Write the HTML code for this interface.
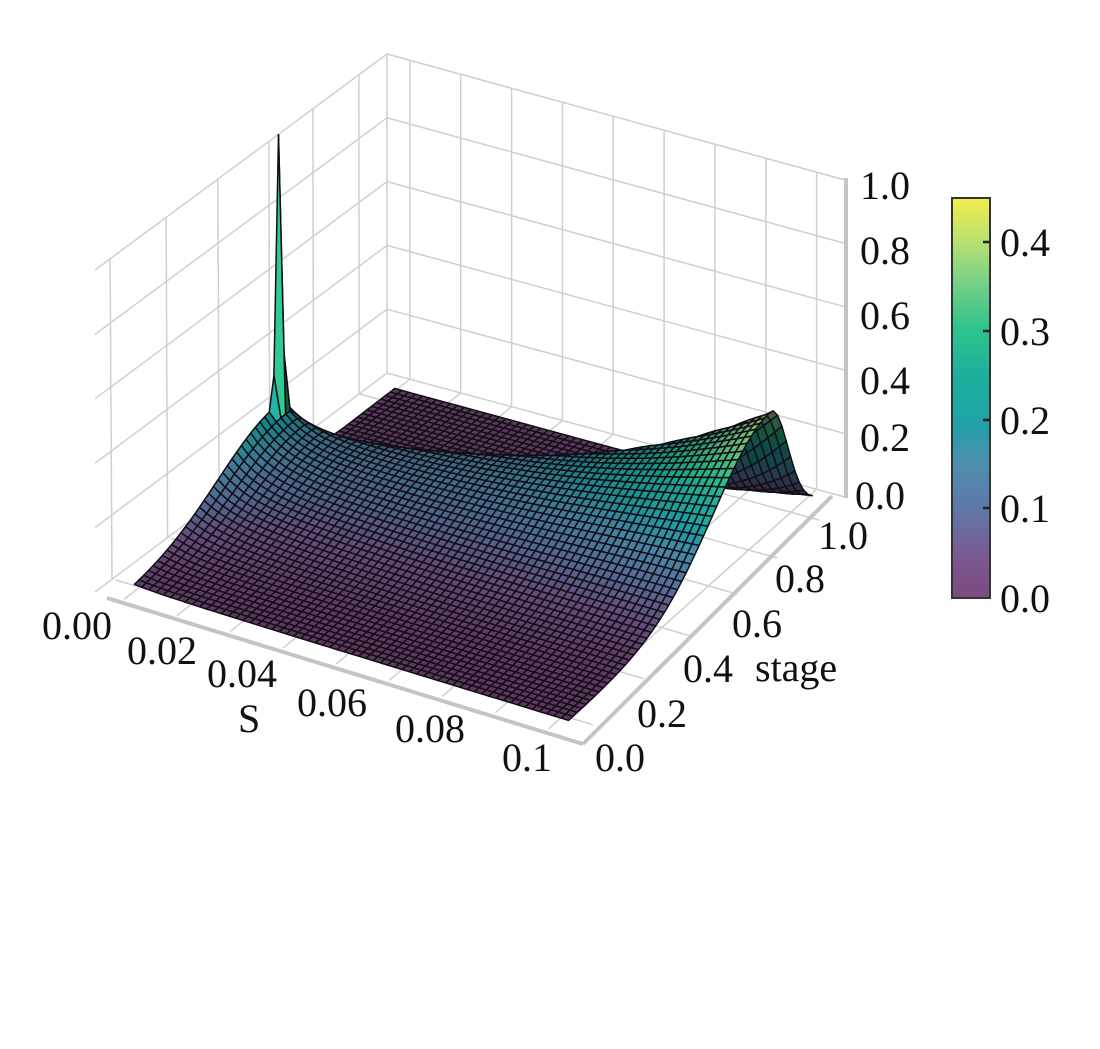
<!DOCTYPE html>
<html><head><meta charset="utf-8"><style>
html,body{margin:0;padding:0;background:#fff;}
svg{display:block;}
text{font-family:"Liberation Serif",serif;font-size:40px;fill:#111;}
</style></head><body>
<svg id="s" width="1100" height="1049" viewBox="0 0 1100 1049" xmlns="http://www.w3.org/2000/svg">
<defs>
<linearGradient id="cb" x1="0" y1="1" x2="0" y2="0">
<stop offset="0" stop-color="#7d4a7e"/>
<stop offset="0.11" stop-color="#7a5a92"/>
<stop offset="0.22" stop-color="#5f78a8"/>
<stop offset="0.33" stop-color="#4f8cae"/>
<stop offset="0.44" stop-color="#1ea3a8"/>
<stop offset="0.56" stop-color="#1db09c"/>
<stop offset="0.67" stop-color="#2ec28c"/>
<stop offset="0.78" stop-color="#72cf88"/>
<stop offset="0.89" stop-color="#b8e070"/>
<stop offset="1" stop-color="#f2ee4c"/>
</linearGradient>
</defs>
<g id="grid" stroke="#cfcfcf" stroke-width="1.5" fill="none"></g>
<g id="surf"></g>
<g stroke="#c4c4c4" stroke-width="4" fill="none">
<line x1="107" y1="598" x2="583" y2="744"/>
<line x1="583" y1="744" x2="832" y2="496"/>
<line x1="846" y1="178" x2="846" y2="498"/>
</g>
<text x="860" y="199">1.0</text>
<text x="860" y="264">0.8</text>
<text x="860" y="329">0.6</text>
<text x="860" y="394">0.4</text>
<text x="860" y="451">0.2</text>
<text x="855" y="509">0.0</text>
<text x="42" y="639">0.00</text>
<text x="127" y="664">0.02</text>
<text x="207" y="687">0.04</text>
<text x="238" y="732">S</text>
<text x="297" y="716">0.06</text>
<text x="395" y="742">0.08</text>
<text x="502" y="771">0.1</text>
<text x="595" y="771">0.0</text>
<text x="637" y="727">0.2</text>
<text x="683" y="682">0.4</text>
<text x="755" y="681">stage</text>
<text x="732" y="637">0.6</text>
<text x="775" y="592">0.8</text>
<text x="818" y="549">1.0</text>
<rect x="952" y="198" width="38" height="400" fill="url(#cb)" stroke="#333" stroke-width="2"/>
<g stroke="#222" stroke-width="2.5">
<line x1="983" y1="242" x2="990" y2="242"/>
<line x1="983" y1="331" x2="990" y2="331"/>
<line x1="983" y1="420" x2="990" y2="420"/>
<line x1="983" y1="508" x2="990" y2="508"/>
</g>
<text x="1000" y="256">0.4</text>
<text x="1000" y="345">0.3</text>
<text x="1000" y="434">0.2</text>
<text x="1000" y="522">0.1</text>
<text x="1000" y="612">0.0</text>
</svg>
<script>
(function(){
var L=[100,592],F=[578,738],R=[845,497],B=[387,373];
var HL=322,HF=328,HR=317,HB=319;
function P(u,v,z){
  var bx=L[0]+(F[0]-L[0])*u, by=L[1]+(F[1]-L[1])*u;
  var tx=B[0]+(R[0]-B[0])*u, ty=B[1]+(R[1]-B[1])*u;
  var x=bx+(tx-bx)*v, y=by+(ty-by)*v;
  var h=(HL+(HF-HL)*u)*(1-v)+(HB+(HR-HB)*u)*v;
  return [x,y-h*z];
}
var g='';
function ln(a,b){g+='<line x1="'+a[0].toFixed(1)+'" y1="'+a[1].toFixed(1)+'" x2="'+b[0].toFixed(1)+'" y2="'+b[1].toFixed(1)+'"/>';}
var lv=[0.055,0.246,0.423,0.597,0.747,0.904];
lv.forEach(function(v){ln([94+293*v,270-216*v],[96+291*v,592-219*v]);});
for(var z=0;z<=1.001;z+=0.2){ln([95,592-322*z],[387,373-319*z]);}
for(var k=0;k<9;k++){var u=0.05+0.111*k;ln([387+458*u,54+126*u],[387+458*u,373+124*u]);}
for(var z=0;z<=1.001;z+=0.2){ln([387,373-319*z],[845,497-317*z]);}
ln([387,54],[387,373]);
for(var k=0;k<9;k++){var u=0.05+0.111*k;ln(P(u,0,0),P(u,1,0));}
lv.forEach(function(v){ln(P(0,v,0),P(1,v,0));});
document.getElementById('grid').innerHTML=g;

var stops=[[0,[125,74,126]],[0.05,[122,90,146]],[0.1,[95,120,168]],[0.15,[79,140,174]],[0.2,[30,163,168]],[0.25,[29,176,156]],[0.3,[46,194,140]],[0.35,[114,207,136]],[0.4,[184,224,112]],[0.45,[242,238,76]]];
function col(z){
  if(z<=0)return stops[0][1];
  if(z>=0.45)return stops[stops.length-1][1];
  for(var i=1;i<stops.length;i++){if(z<=stops[i][0]){var a=stops[i-1],b=stops[i],t=(z-a[0])/(b[0]-a[0]);return [a[1][0]+(b[1][0]-a[1][0])*t,a[1][1]+(b[1][1]-a[1][1])*t,a[1][2]+(b[1][2]-a[1][2])*t];}}
}
var N=60,M=56,u0=0.045,u1=0.955,v0=0.045,v1=0.955;
function Z(i,j){
  var up=i/N, v=v0+(v1-v0)*j/M;
  var c=0.55+0.25*up;
  var g1=v<c?Math.exp(-Math.pow((v-c)/0.3,2)):Math.exp(-Math.pow((v-c)/0.09,2));
  var f=0.13+0.27*Math.pow(up,3)+0.1*Math.exp(-up/0.06);
  var sp=(i==0?0.85:0)*Math.exp(-Math.pow((v-c)/0.012,2));
  return f*g1+sp;
}
var zs=[];for(var i=0;i<=N;i++){zs[i]=[];for(var j=0;j<=M;j++)zs[i][j]=Z(i,j);}
var quads=[];
for(var i=0;i<N;i++)for(var j=0;j<M;j++){
  var ua=u0+(u1-u0)*i/N,ub=u0+(u1-u0)*(i+1)/N,va=v0+(v1-v0)*j/M,vb=v0+(v1-v0)*(j+1)/M;
  var p1=P(ua,va,zs[i][j]),p2=P(ub,va,zs[i+1][j]),p3=P(ub,vb,zs[i+1][j+1]),p4=P(ua,vb,zs[i][j+1]);
  var zm=(zs[i][j]+zs[i+1][j]+zs[i+1][j+1]+zs[i][j+1])/4;
  if(zm>0.42)zm=0.3;
  var dz=((zs[i][j+1]+zs[i+1][j+1])-(zs[i][j]+zs[i+1][j]))/2*M;
  var sh=0.74+0.3*Math.max(-1,Math.min(1,dz*0.8));
  var by=P((ua+ub)/2,(va+vb)/2,0)[1];
  quads.push([by,p1,p2,p3,p4,zm,sh]);
}
quads.sort(function(a,b){return a[0]-b[0];});
var s='';
quads.forEach(function(q){
  var c=col(q[5]),sh=q[6];
  var r=Math.round(Math.min(255,c[0]*sh)),gg=Math.round(Math.min(255,c[1]*sh)),b=Math.round(Math.min(255,c[2]*sh));
  s+='<polygon points="'+[q[1],q[2],q[3],q[4]].map(function(p){return p[0].toFixed(1)+','+p[1].toFixed(1);}).join(' ')+'" fill="rgb('+r+','+gg+','+b+')"/>';
});
var el=document.getElementById('surf');
el.setAttribute('stroke','#120e16');el.setAttribute('stroke-width','1.5');el.setAttribute('stroke-linejoin','round');
el.innerHTML=s;
})();
</script>
</body></html>
